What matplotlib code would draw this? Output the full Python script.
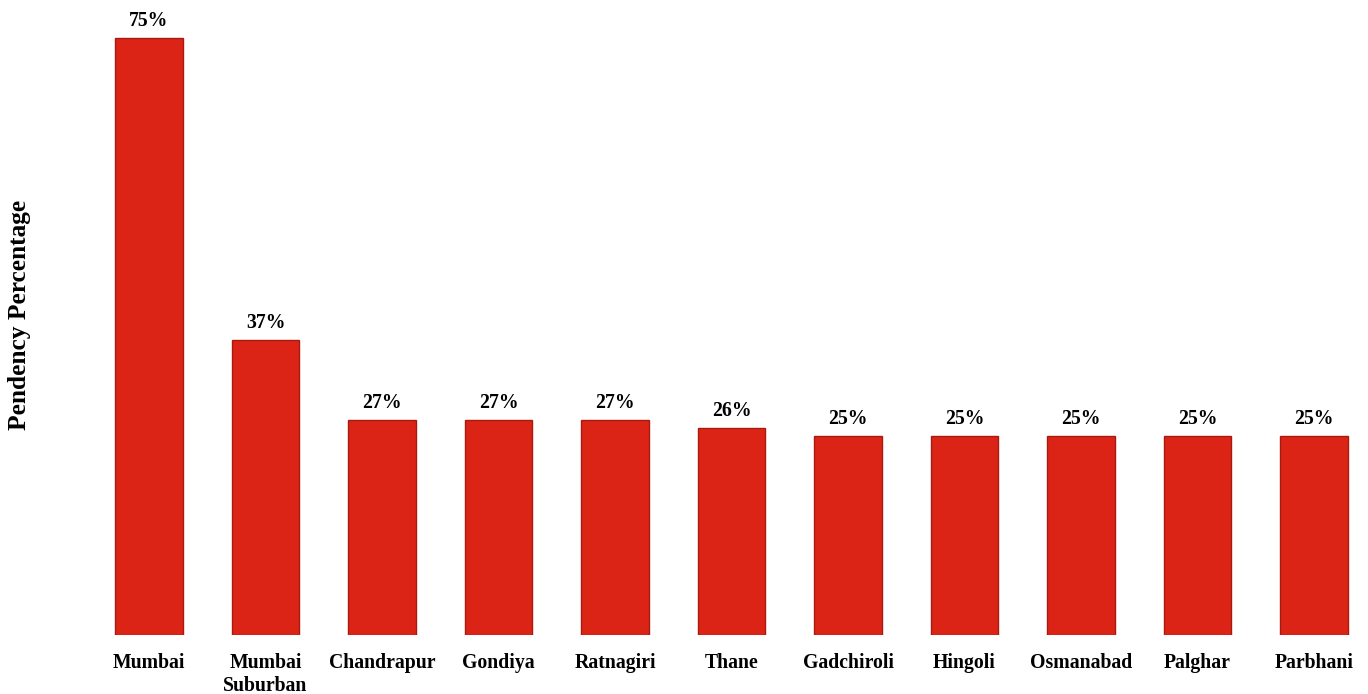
import matplotlib
matplotlib.use("Agg")
import matplotlib.pyplot as plt

districts = ["Mumbai", "Mumbai\nSuburban", "Chandrapur", "Gondiya", "Ratnagiri", "Thane",
             "Gadchiroli", "Hingoli", "Osmanabad", "Palghar", "Parbhani"]
pendency = [75, 37, 27, 27, 27, 26, 25, 25, 25, 25, 25]

plt.rcParams["font.family"] = ["Liberation Serif", "DejaVu Serif"]
plt.rcParams["font.weight"] = "bold"

fig = plt.figure(figsize=(13.68, 6.94), dpi=100)
ax = fig.add_axes([0.0585, 0.085, 0.9357, 0.9006])

x = list(range(len(districts)))
bars = ax.bar(x, pendency, width=0.58, color="#DC2416", edgecolor="#A81A10", linewidth=1.0)

for xi, v in zip(x, pendency):
    ax.annotate(f"{v}%", (xi, v), xytext=(0, 5), textcoords="offset points",
                ha="center", va="bottom", fontsize=14.2, fontweight="bold")

ax.set_xlim(-0.592, 10.395)
ax.set_ylim(0, 78.5)
ax.set_xticks(x)
ax.set_xticklabels(districts, fontsize=14.2, fontweight="bold", linespacing=1.2)
ax.tick_params(axis="x", length=0, pad=13)
ax.set_yticks([])
for s in ax.spines.values():
    s.set_visible(False)

fig.text(0.014, 0.546, "Pendency Percentage", rotation=90, ha="center", va="center",
         fontsize=18.3, fontweight="bold")

fig.savefig("out.png", dpi=100, facecolor="white")
